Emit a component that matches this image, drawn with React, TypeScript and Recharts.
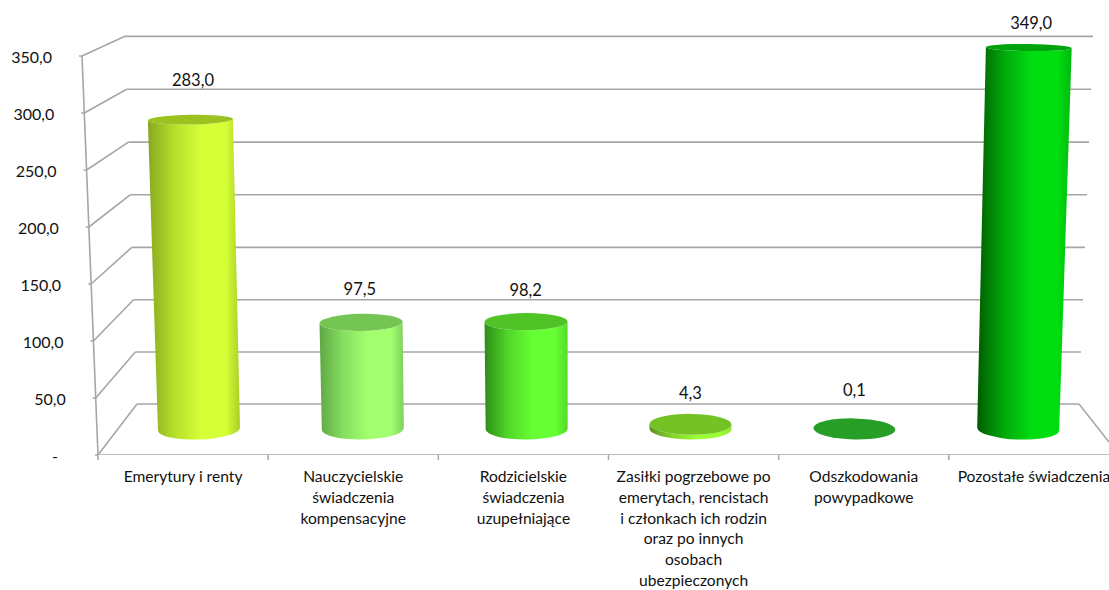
import { Bar, ComposedChart, LabelList, Line, XAxis, YAxis } from "recharts";

const categories = [
  "Emerytury i renty",
  "Nauczycielskie\nświadczenia\nkompensacyjne",
  "Rodzicielskie\nświadczenia\nuzupełniające",
  "Zasiłki pogrzebowe po\nemerytach, rencistach\ni członkach ich rodzin\noraz po innych\nosobach\nubezpieczonych",
  "Odszkodowania\npowypadkowe",
  "Pozostałe świadczenia",
];
const values = [283.0, 97.5, 98.2, 4.3, 0.1, 349.0];
const yTicks = [0, 50, 100, 150, 200, 250, 300, 350];

// side gradient (dark edge, mid, bright, right edge) and top ellipse for each cylinder
const sideColors = [
  ["#87a81f", "#b4de2a", "#d6ff36", "#a9cf27"],
  ["#5fa845", "#86de5f", "#a3ff70", "#7fcf5c"],
  ["#2c8c17", "#50d628", "#66ff33", "#55d92b"],
  ["#5c9020", "#88d42c", "#9cff33", "#8fe82f"],
  ["#279f27", "#279f27", "#279f27", "#279f27"],
  ["#005c00", "#00a80a", "#00de10", "#00b80c"],
];
const topColors = ["#9cc21f", "#74c554", "#50c427", "#74c226", "#279f27", "#00a30c"];

const labelLift = [40, 33, 32, 31, 39, 25];
const labelShift = [-6, -3, -1, 0, 0, 13];

const data = categories.map((name, i) => ({ name, value: values[i] }));

const WIDTH = 1119;
const HEIGHT = 590;
const PLOT_LEFT = 78;
const PLOT_TOP = 20;
const PLOT_BOTTOM = 455;
const MID_X = 608;

// the 3D walls: everything here is in page pixels measured up from the floor line
const frontX = (v: number) => 98 - (16 * v) / 350;
const frontY = (v: number) => 1.14 * v;
const backY = (v: number) => 51 + 1.04 * v + 0.00003 * v * v;
const backLeftX = (v: number) => 137 - (12 * v) / 350;
const backRightX = (v: number) => 1079 + (14 * v) / 350;

const fmt = (v: number) => v.toFixed(1).replace(".", ",");

function Cylinder(props: any) {
  const { x, y, width, height, index } = props;
  const cx = x + width / 2;
  const h = Math.max(height, 0);
  const lean = (cx - MID_X) * 6.8e-5 * h;
  const topCx = cx + lean;
  const wTop = width + h * 0.01;
  const ryOf = (py: number) => 3.5 + (py - 46) * 0.0183;
  const ryTop = ryOf(y);
  const ryBase = ryOf(y + h);
  const tiltOf = (ry: number) => ((cx - MID_X) / 410) * ry * 0.2;
  const tTop = tiltOf(ryTop);
  const tBase = tiltOf(ryBase);
  const rad = Math.PI / 180;
  const id = `cyl-${index}`;
  const [c0, c1, c2, c3] = sideColors[index];

  const lbY = y + h + (width / 2) * Math.tan(-tBase * rad);
  const rbY = y + h + (width / 2) * Math.tan(tBase * rad);
  const ltY = y + (wTop / 2) * Math.tan(-tTop * rad);
  const rtY = y + (wTop / 2) * Math.tan(tTop * rad);
  const side = [
    `M${topCx - wTop / 2},${ltY}`,
    `L${cx - width / 2},${lbY}`,
    `A${width / 2},${ryBase} ${tBase} 0 0 ${cx + width / 2},${rbY}`,
    `L${topCx + wTop / 2},${rtY}`,
    `A${wTop / 2},${ryTop} ${tTop} 0 1 ${topCx - wTop / 2},${ltY}`,
    "Z",
  ].join(" ");

  return (
    <g>
      <defs>
        <linearGradient id={id} x1="0" x2="1" y1="0" y2="0">
          <stop offset="0%" stopColor={c0} />
          <stop offset="28%" stopColor={c1} />
          <stop offset="58%" stopColor={c2} />
          <stop offset="85%" stopColor={c2} />
          <stop offset="100%" stopColor={c3} />
        </linearGradient>
      </defs>
      <path d={side} fill={`url(#${id})`} />
      <ellipse
        cx={topCx}
        cy={y}
        rx={wTop / 2}
        ry={ryTop}
        fill={topColors[index]}
        transform={`rotate(${tTop} ${topCx} ${y})`}
      />
    </g>
  );
}

function ValueLabel(props: any) {
  const { x, y, width, value, index } = props;
  return (
    <text
      x={x + width / 2 + labelShift[index]}
      y={y - labelLift[index]}
      textAnchor="middle"
      dominantBaseline="central"
      fontFamily="Lato"
      fontSize={16.5}
      fill="#111"
    >
      {fmt(value)}
    </text>
  );
}

function YTick(props: any) {
  const { y, payload } = props;
  const v = payload.value;
  const axisX = frontX(v);
  return (
    <g>
      <line x1={axisX - 3} x2={axisX} y1={y} y2={y} stroke="#a6a6a6" strokeWidth={1.5} />
      <text
        x={v === 0 ? 58 : axisX - 30}
        y={y}
        textAnchor="end"
        dominantBaseline="central"
        fontFamily="Lato"
        fontSize={16}
        fill="#111"
      >
        {v === 0 ? "-" : fmt(v)}
      </text>
    </g>
  );
}

function XTick(props: any) {
  const { x, payload } = props;
  const band = (WIDTH - 98) / categories.length;
  const lines = String(payload.value).split("\n");
  return (
    <g>
      <line x1={x - band / 2} x2={x - band / 2} y1={PLOT_BOTTOM} y2={PLOT_BOTTOM + 5} stroke="#a6a6a6" strokeWidth={1.5} />
      <text textAnchor="middle" fontFamily="Lato" fontSize={15.6} fill="#111">
        {lines.map((line, i) => (
          <tspan key={i} x={x} y={482 + i * 20.8}>
            {line}
          </tspan>
        ))}
      </text>
    </g>
  );
}

function wallLine(key: string, x1: number, y1: number, x2: number, y2: number) {
  return (
    <Line
      key={key}
      xAxisId="frame"
      yAxisId="frame"
      data={[
        { fx: x1, fy: y1 },
        { fx: x2, fy: y2 },
      ]}
      dataKey="fy"
      type="linear"
      stroke="#a6a6a6"
      strokeWidth={1.6}
      dot={false}
      activeDot={false}
      legendType="none"
      isAnimationActive={false}
      zIndex={250}
    />
  );
}

export default function App() {
  return (
    <div style={{ position: "absolute", left: 0, top: 0, width: 1109, height: 590, overflow: "hidden", background: "#fff" }}>
      <ComposedChart
        width={WIDTH}
        height={HEIGHT}
        data={data}
        margin={{ top: PLOT_TOP, right: 0, bottom: 0, left: 0 }}
        barCategoryGap={0}
      >
        <XAxis
          xAxisId="labels"
          dataKey="name"
          height={HEIGHT - PLOT_BOTTOM}
          padding={{ left: 98 - PLOT_LEFT, right: 0 }}
          axisLine={false}
          tickLine={false}
          interval={0}
          tick={<XTick />}
        />
        <XAxis xAxisId="bars" dataKey="name" hide padding={{ left: 39, right: 19 }} />
        <XAxis xAxisId="frame" dataKey="fx" type="number" hide allowDataOverflow domain={[PLOT_LEFT, WIDTH]} />
        <YAxis
          yAxisId="front"
          width={PLOT_LEFT}
          allowDataOverflow
          domain={[0, (PLOT_BOTTOM - PLOT_TOP) / 1.14]}
          ticks={yTicks}
          interval={0}
          axisLine={false}
          tickLine={false}
          tick={<YTick />}
        />
        <YAxis yAxisId="bars" hide domain={[-23.79, 374.2]} />
        <YAxis yAxisId="frame" hide allowDataOverflow domain={[0, PLOT_BOTTOM - PLOT_TOP]} />
        {yTicks.map((v) => wallLine(`back-${v}`, backLeftX(v), backY(v), backRightX(v), backY(v)))}
        {yTicks.map((v) => wallLine(`side-${v}`, frontX(v), frontY(v), backLeftX(v), backY(v)))}
        {wallLine("axis", frontX(350), frontY(350), frontX(0), 0)}
        {wallLine("floor", frontX(0), 0, WIDTH, 0)}
        {wallLine("floor-right", backRightX(0), backY(0), 1109, 13)}
        <Bar
          xAxisId="bars"
          yAxisId="bars"
          dataKey="value"
          barSize={82}
          shape={<Cylinder />}
          isAnimationActive={false}
        >
          <LabelList dataKey="value" content={<ValueLabel />} />
        </Bar>
      </ComposedChart>
    </div>
  );
}
